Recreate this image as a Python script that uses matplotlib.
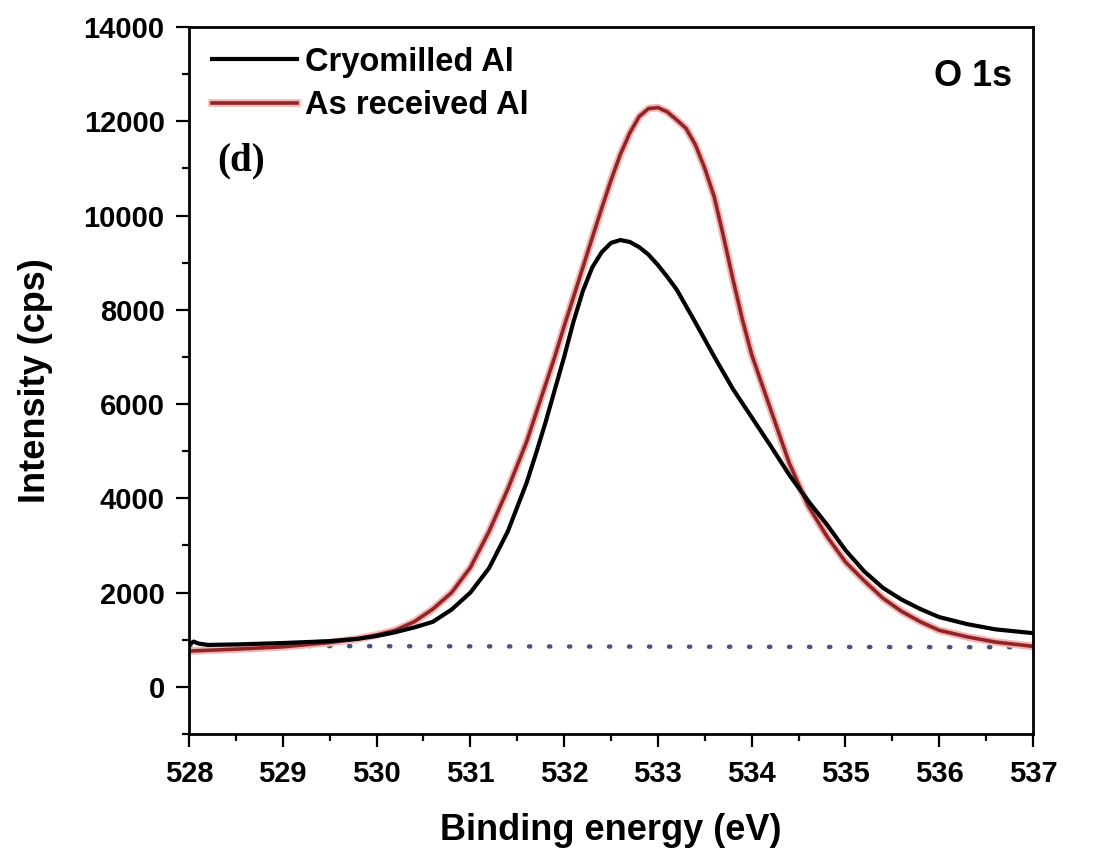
import matplotlib
matplotlib.use('Agg')
import matplotlib.pyplot as plt
import matplotlib.patheffects as pe
from matplotlib.ticker import MultipleLocator

plt.rcParams['font.family'] = ['Liberation Sans', 'DejaVu Sans']
plt.rcParams['font.weight'] = 'bold'

# binding energy (eV) / intensity (cps)
be_cryo = [528.0, 528.05, 528.1, 528.2, 528.5, 529.0, 529.5, 529.8, 530.0, 530.2,
           530.4, 530.6, 530.8, 531.0, 531.2, 531.4, 531.6, 531.7, 531.8, 531.9,
           532.0, 532.1, 532.2, 532.3, 532.4, 532.5, 532.6, 532.7, 532.8, 532.9,
           533.0, 533.1, 533.2, 533.3, 533.4, 533.6, 533.8, 534.0, 534.2, 534.4,
           534.6, 534.8, 535.0, 535.2, 535.4, 535.6, 535.8, 536.0, 536.3, 536.6,
           537.0]
int_cryo = [900, 960, 920, 890, 900, 930, 970, 1020, 1080, 1160,
            1260, 1380, 1640, 2000, 2520, 3300, 4330, 4950, 5600, 6300,
            7000, 7750, 8400, 8900, 9220, 9420, 9480, 9440, 9330, 9170,
            8950, 8700, 8430, 8080, 7730, 7010, 6320, 5720, 5120, 4500,
            3950, 3450, 2900, 2450, 2100, 1850, 1650, 1480, 1330, 1220,
            1140]

be_asrec = [528.0, 528.5, 529.0, 529.5, 529.8, 530.0, 530.2, 530.4, 530.6, 530.8,
            531.0, 531.2, 531.4, 531.6, 531.7, 531.8, 531.9, 532.0, 532.1, 532.2,
            532.3, 532.4, 532.5, 532.6, 532.7, 532.8, 532.9, 533.0, 533.1, 533.2,
            533.3, 533.4, 533.5, 533.6, 533.7, 533.8, 533.9, 534.0, 534.2, 534.4,
            534.6, 534.8, 535.0, 535.2, 535.4, 535.6, 535.8, 536.0, 536.3, 536.6,
            537.0]
int_asrec = [760, 800, 850, 940, 1020, 1100, 1200, 1380, 1650, 2000,
             2530, 3300, 4200, 5200, 5800, 6400, 7000, 7650, 8270, 8900,
             9530, 10150, 10750, 11300, 11750, 12100, 12270, 12290, 12200, 12030,
             11850, 11500, 11000, 10400, 9550, 8650, 7800, 7050, 5900, 4750,
             3850, 3200, 2650, 2250, 1880, 1600, 1380, 1200, 1060, 950,
             860]

be_base = [528.0, 537.0]
int_base = [870, 840]

fig = plt.figure(figsize=(10.95, 8.52), dpi=100)
ax = fig.add_axes([0.1726, 0.1385, 0.7708, 0.8298])

ax.plot(be_base, int_base, color='#4f4f80', lw=3.2, linestyle=(0, (0.3, 4.2)),
        dash_capstyle='round', zorder=1)
ax.plot(be_cryo, int_cryo, color='black', lw=3, label='Cryomilled Al', zorder=3)
ax.plot(be_asrec, int_asrec, color='#8e2628', lw=2.6, label='As received Al', zorder=2,
        path_effects=[pe.Stroke(linewidth=5.5, foreground='#f6b4b4'), pe.Normal()])

ax.set_xlim(528, 537)
ax.set_ylim(-1000, 14000)
ax.xaxis.set_major_locator(MultipleLocator(1))
ax.xaxis.set_minor_locator(MultipleLocator(0.5))
ax.yaxis.set_major_locator(MultipleLocator(2000))
ax.yaxis.set_minor_locator(MultipleLocator(1000))
ax.tick_params(which='major', direction='out', length=9.5, width=1.6, labelsize=21)
ax.tick_params(which='minor', direction='out', length=5, width=1.6)
ax.tick_params(axis='y', pad=8)
ax.tick_params(axis='x', pad=9)
for s in ax.spines.values():
    s.set_linewidth(2)

ax.set_xlabel('Binding energy (eV)', fontsize=26, fontweight='bold', labelpad=18)
ax.set_ylabel('Intensity (cps)', fontsize=26, fontweight='bold', labelpad=22)

ax.legend(loc='upper left', bbox_to_anchor=(0.008, 0.995), frameon=False, fontsize=23.5,
          handlelength=2.6, handletextpad=0.25, labelspacing=0.38, borderaxespad=0.3,
          borderpad=0.2)
ax.text(0.975, 0.93, 'O 1s', transform=ax.transAxes, ha='right', va='center',
        fontsize=26, fontweight='bold')
ax.text(0.034, 0.81, '(d)', transform=ax.transAxes, ha='left', va='center',
        fontsize=28, fontweight='bold', family=['Liberation Serif', 'DejaVu Serif'])

fig.savefig('out.png', dpi=100)
